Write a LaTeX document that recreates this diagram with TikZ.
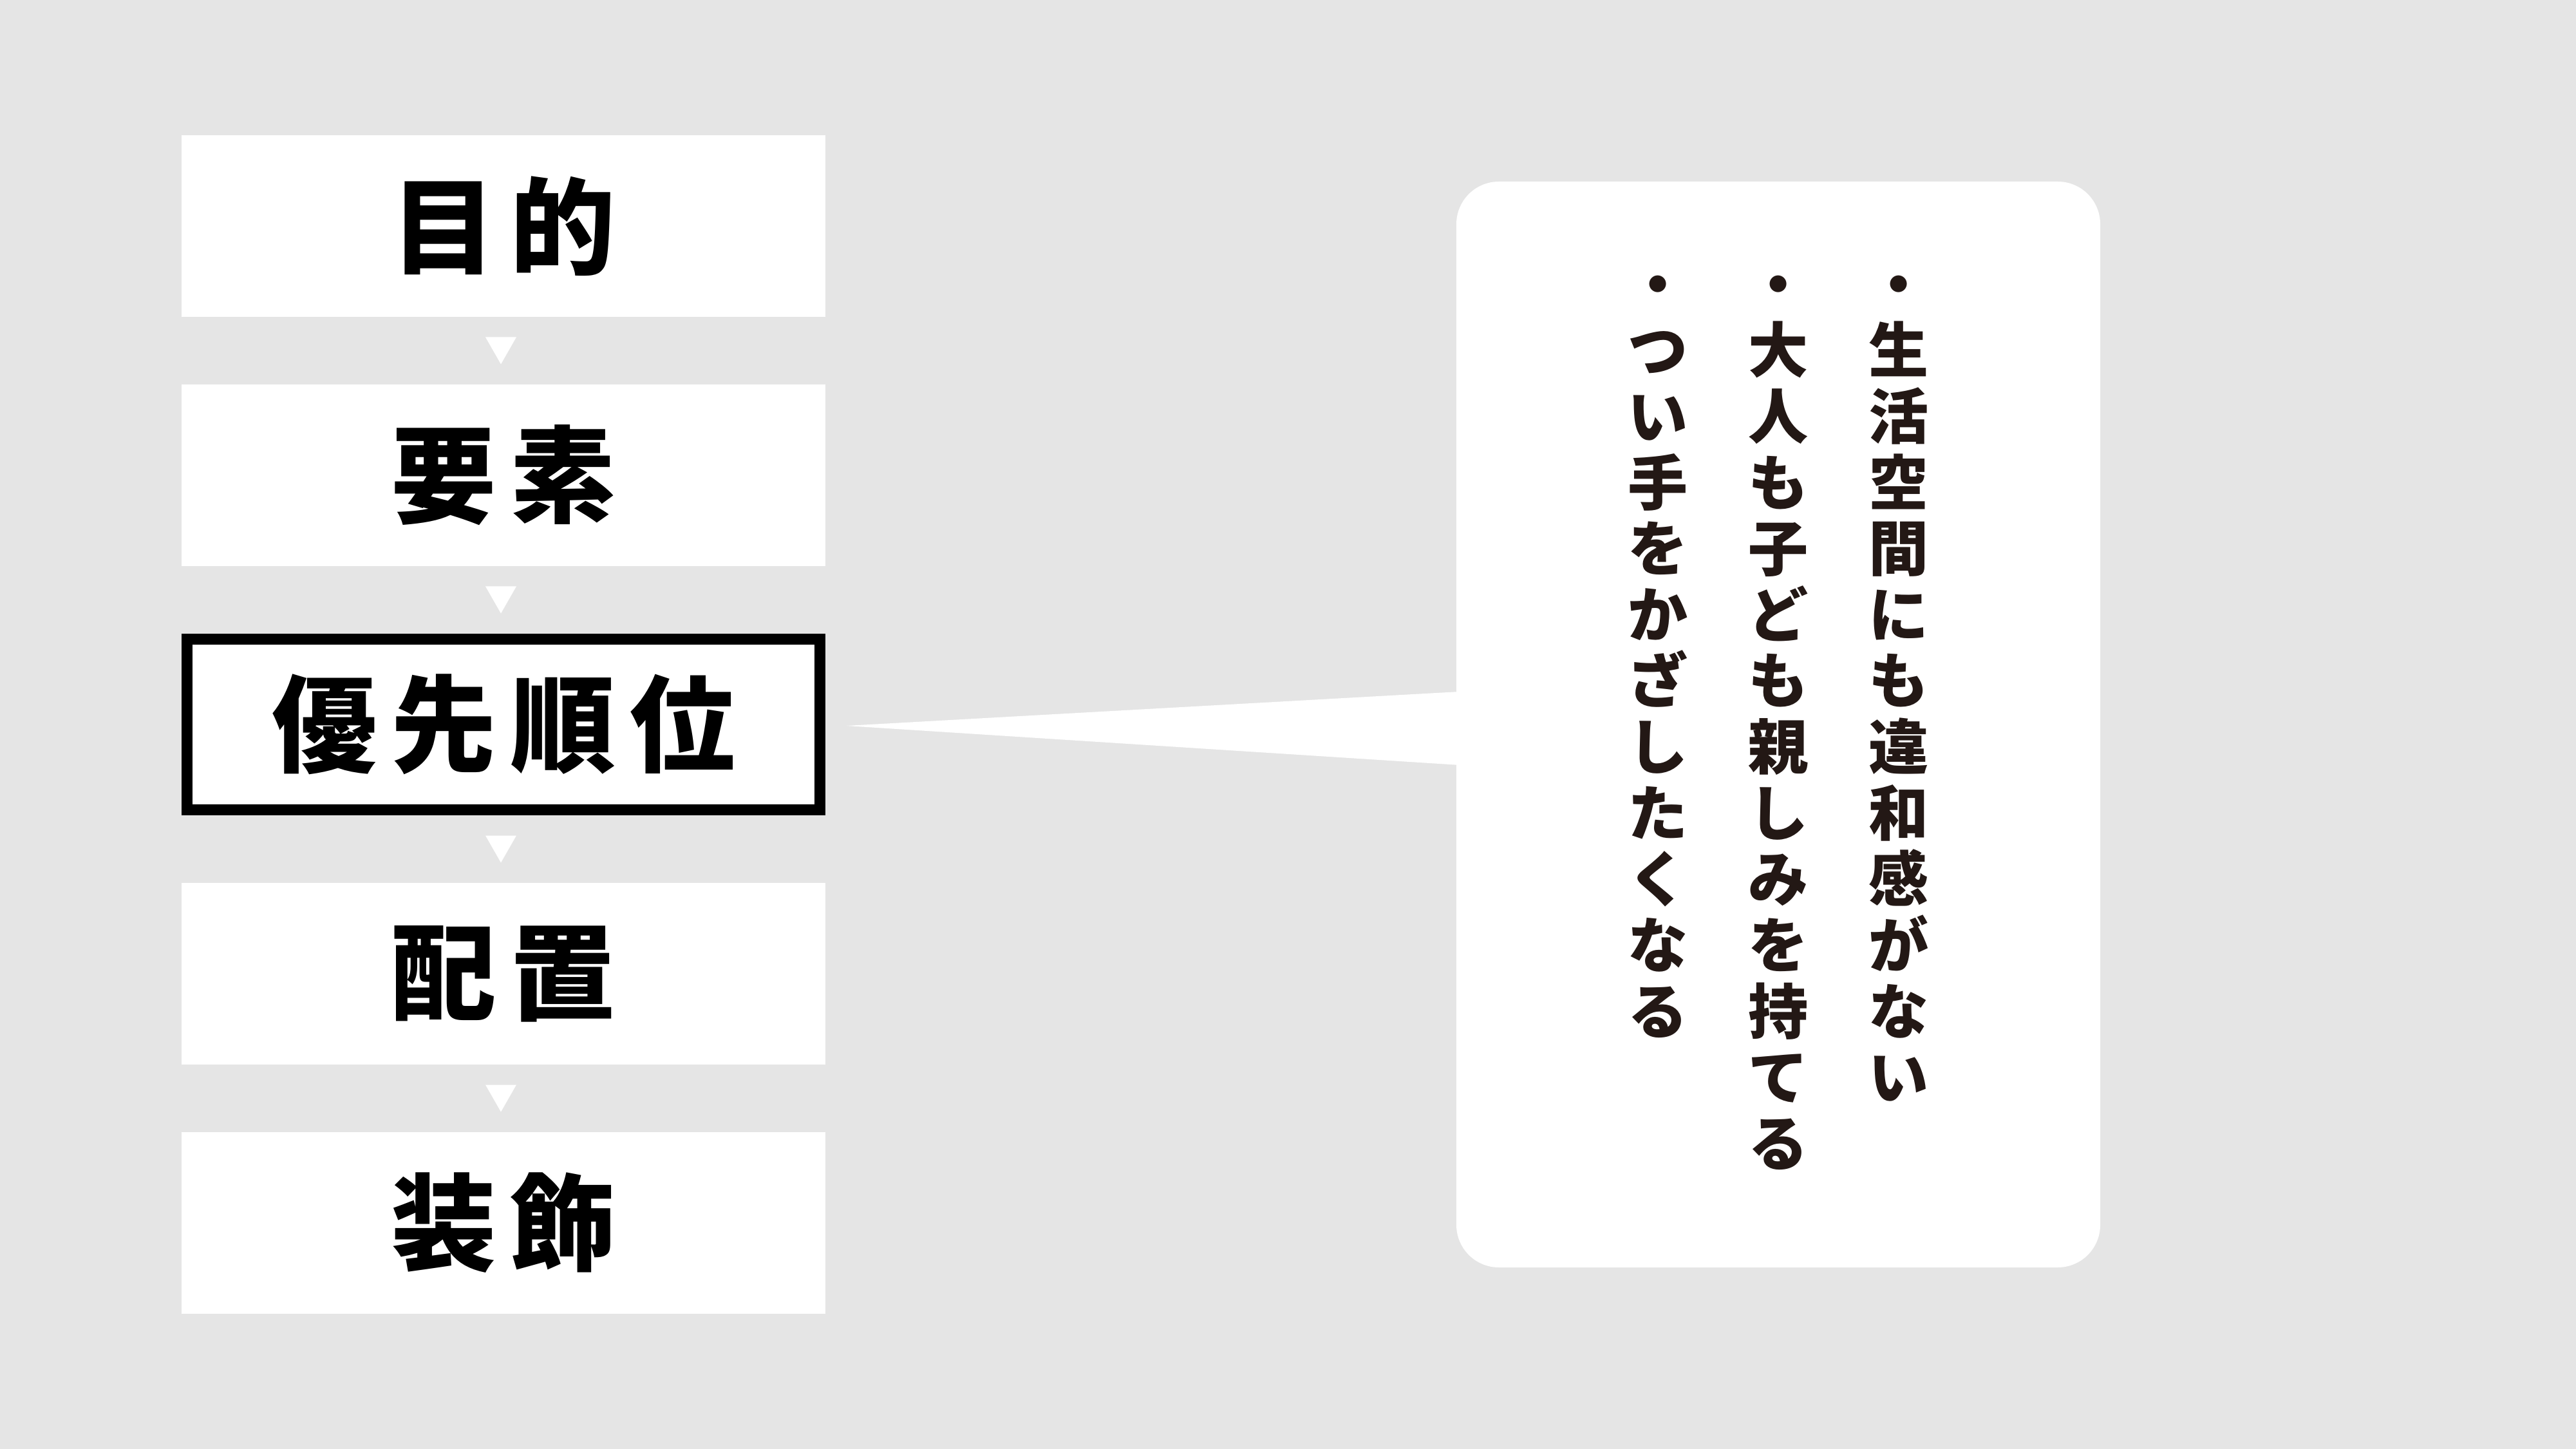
\documentclass[tikz,border=0pt]{standalone}
\usepackage{fontspec}
\setmainfont{Noto Sans CJK JP}
\usepackage{xcolor}
\usepackage{tikz}
\usetikzlibrary{positioning,calc}

\definecolor{bggray}{HTML}{E5E5E5}
\definecolor{inkbrown}{HTML}{231815}
\newcommand{\kgap}{\hspace{0.22cm}}

\begin{document}
\begin{tikzpicture}[
                stepnode/.style={rectangle, fill=white, inner sep=0pt, outer sep=0pt, minimum width=10cm, minimum height=2.82cm, font=\fontsize{46.5}{50}\selectfont\bfseries},
                stepnode2/.style={stepnode, draw=black, line width=0.17cm, outer sep=0.085cm, minimum width=9.83cm, minimum height=2.65cm},
                calloutnode/.style={rectangle, rounded corners=0.66cm, fill=white, inner sep=0pt, outer sep=0pt, minimum width=10cm, minimum height=16.86cm},
                tatenode/.style={align=center, inner sep=0pt, anchor=north, text=inkbrown, font=\fontsize{26.5}{29.2}\selectfont\bfseries, execute at begin node=\strut},
                downtri/.style={fill=white}
                ]
                \fill[bggray] (0,0) rectangle (40.01,-22.5);
                \node[stepnode] (purpose) at (7.82,-3.51) {目\kgap 的\kgap};
                \node[stepnode] (elements) [below=1.05cm of purpose] {要\kgap 素\kgap};
                \node[stepnode2] (priority) [below=1.05cm of elements] {優\kgap 先\kgap 順\kgap 位\kgap};
                \node[stepnode] (layout) [below=1.05cm of priority] {配\kgap 置\kgap};
                \node[stepnode] (decor) [below=1.05cm of layout] {装\kgap 飾\kgap};
                % small arrows between the steps
                \fill[downtri] ($(purpose.south)!0.5!(elements.north)$) +(-0.28,0.21) -- +(0.2,0.21) -- +(-0.04,-0.21) -- cycle;
                \fill[downtri] ($(elements.south)!0.5!(priority.north)$) +(-0.28,0.21) -- +(0.2,0.21) -- +(-0.04,-0.21) -- cycle;
                \fill[downtri] ($(priority.south)!0.5!(layout.north)$) +(-0.28,0.21) -- +(0.2,0.21) -- +(-0.04,-0.21) -- cycle;
                \fill[downtri] ($(layout.south)!0.5!(decor.north)$) +(-0.28,0.21) -- +(0.2,0.21) -- +(-0.04,-0.21) -- cycle;
                % speech bubble
                \node[calloutnode] (callout) [right=9.8cm of priority] {};
                \fill[white] ($(priority.east)+(0.33,-0.02)$) -- ($(callout.west)+(0.05,0.51)$) -- ($(callout.west)+(0.05,-0.63)$) -- cycle;
                \node[tatenode] (secondPoint) [below=1.45cm of callout.north] {・\\大\\人\\も\\子\\ど\\も\\親\\し\\み\\を\\持\\て\\る};
                \node[tatenode] (firstPoint) at ([xshift=1.87cm]secondPoint.north) {・\\生\\活\\空\\間\\に\\も\\違\\和\\感\\が\\な\\い};
                \node[tatenode] (thirdPoint) at ([xshift=-1.87cm]secondPoint.north) {・\\つ\\い\\手\\を\\か\\ざ\\し\\た\\く\\な\\る};
            \end{tikzpicture}
\end{document}
